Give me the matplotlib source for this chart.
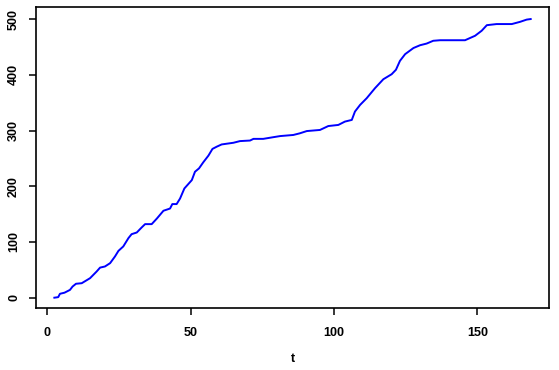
import matplotlib
matplotlib.use("Agg")
import matplotlib.pyplot as plt

plt.rcParams['font.family'] = ['Liberation Sans', 'DejaVu Sans']

# cumulative count N(t)
t = [2.45, 3.8, 4.4, 6.0, 7.9, 8.8, 10.0, 12.0, 14.9, 17.2, 18.4, 20.1, 21.9, 23.6,
     24.8, 26.5, 28.3, 29.4, 31.2, 32.9, 34.1, 36.4, 38.2, 40.5, 42.8, 43.6, 45.1,
     46.3, 47.8, 50.4, 51.5, 52.9, 54.4, 56.2, 57.6, 59.1, 60.8, 64.9, 67.2, 70.7,
     71.9, 75.3, 78.8, 81.2, 85.8, 88.1, 90.5, 95.1, 98.0, 101.5, 103.8, 106.2,
     107.3, 109.1, 111.4, 114.3, 117.2, 120.1, 121.6, 123.0, 124.8, 127.7, 130.0,
     132.3, 134.6, 137.0, 145.7, 149.2, 151.5, 153.3, 156.7, 162.0, 164.9, 167.2,
     168.6]
n = [0, 1, 7, 9, 14, 20, 25, 26, 35, 47, 54, 56, 62, 74,
     84, 92, 107, 114, 117, 126, 132, 132, 142, 156, 160, 168, 168,
     178, 196, 211, 226, 232, 243, 255, 267, 271, 275, 278, 281, 282,
     285, 285, 288, 290, 292, 295, 299, 301, 308, 310, 316, 319,
     334, 346, 358, 376, 392, 401, 409, 425, 437, 448, 453,
     456, 461, 462, 462, 470, 479, 489, 491, 491, 495, 499,
     500]
xticks = [0, 50, 100, 150]
yticks = [0, 100, 200, 300, 400, 500]

fig = plt.figure(figsize=(5.59, 3.70), dpi=100)
ax = fig.add_axes([0.0639, 0.1668, 0.9188, 0.8135])
ax.plot(t, n, color=(0, 0, 1), lw=1.4)

ax.set_xlim(-4.05, 175.1)
ax.set_ylim(-19.0, 521.1)
ax.set_xticks(xticks)
ax.set_yticks(yticks)
ax.set_xticklabels([str(v) for v in xticks], fontweight='bold')
ax.set_yticklabels([str(v) for v in yticks], rotation=90, va='center',
                   fontweight='bold')
ax.tick_params(axis='both', direction='out', length=5.3, width=1.1, labelsize=9,
               colors='black')
ax.tick_params(axis='x', pad=8)
ax.tick_params(axis='y', pad=6)
for s in ax.spines.values():
    s.set_linewidth(1.2)
ax.set_xlabel('t', fontsize=9, fontweight='bold', labelpad=10)

fig.savefig('out.png', dpi=100)
